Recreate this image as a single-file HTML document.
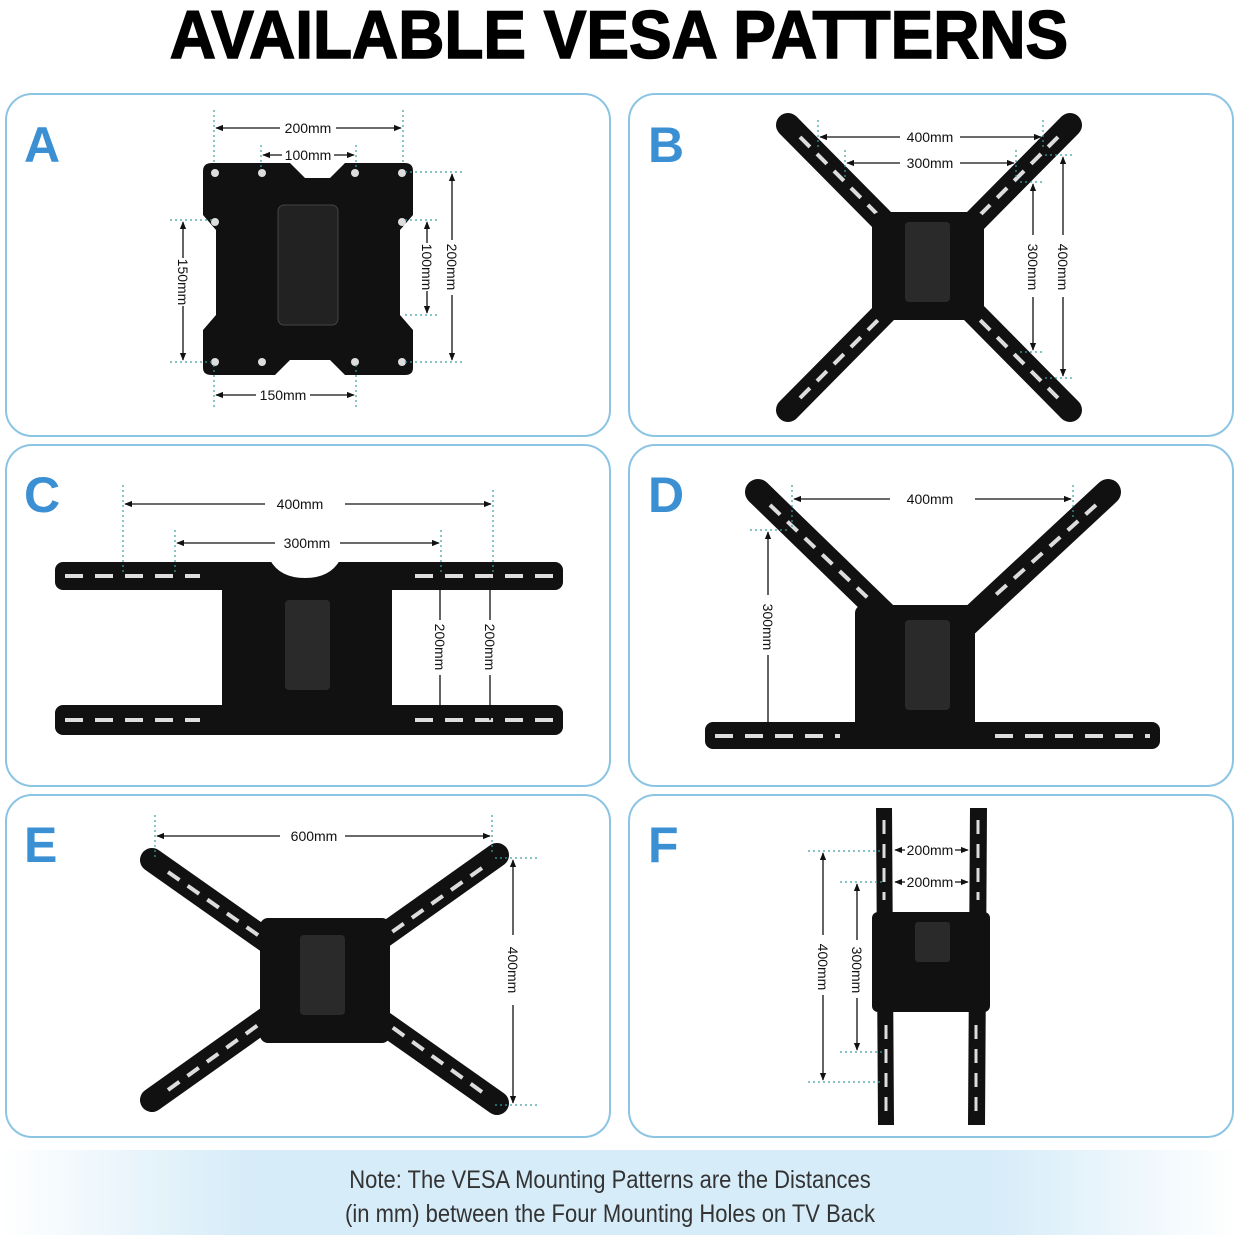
<!DOCTYPE html>
<html><head><meta charset="utf-8"><style>
html,body{margin:0;padding:0;background:#fff;}
body{width:1238px;height:1235px;position:relative;overflow:hidden;font-family:"Liberation Sans",sans-serif;}
svg{position:absolute;left:0;top:0;}
</style></head><body>
<svg width="1238" height="1235" viewBox="0 0 1238 1235" xmlns="http://www.w3.org/2000/svg">
<defs>
<linearGradient id="band" x1="0" x2="1" y1="0" y2="0">
<stop offset="0" stop-color="#ffffff"/><stop offset="0.2" stop-color="#d6ecf8"/><stop offset="0.8" stop-color="#d6ecf8"/><stop offset="1" stop-color="#ffffff"/>
</linearGradient>
<marker id="ar" viewBox="0 0 10 10" refX="9" refY="5" markerWidth="6" markerHeight="6" orient="auto-start-reverse"><path d="M0,1 L10,5 L0,9z" fill="#111"/></marker>
</defs>
<text x="619" y="58" text-anchor="middle" font-family="Liberation Sans" font-weight="bold" font-size="68" stroke="#000" stroke-width="1.5" transform="translate(619,0) scale(0.94,1) translate(-619,0)" fill="#000">AVAILABLE VESA PATTERNS</text>

<g fill="none" stroke="#8cc4e4" stroke-width="2">
<rect x="6" y="94" width="604" height="342" rx="26"/>
<rect x="629" y="94" width="604" height="342" rx="26"/>
<rect x="6" y="445" width="604" height="341" rx="26"/>
<rect x="629" y="445" width="604" height="341" rx="26"/>
<rect x="6" y="795" width="604" height="342" rx="26"/>
<rect x="629" y="795" width="604" height="342" rx="26"/>
</g>
<g font-family="Liberation Sans" font-weight="bold" font-size="50" fill="#3b8fd3">
<text x="24" y="162">A</text><text x="648" y="162">B</text>
<text x="24" y="512">C</text><text x="648" y="512">D</text>
<text x="24" y="862">E</text><text x="648" y="862">F</text>
</g>

<!-- A -->
<path d="M212,163 H290 L305,178 H330 L345,163 H405 Q413,163 413,171 V215 L400,230 V315 L413,330 V368 Q413,375 405,375 H345 L330,360 H290 L275,375 H212 Q203,375 203,368 V330 L216,315 V230 L203,215 V171 Q203,163 212,163Z" fill="#111"/>
<rect x="278" y="205" width="60" height="120" rx="6" fill="#222" stroke="#444"/>
<g fill="#ddd"><circle cx="215" cy="173" r="4"/><circle cx="262" cy="173" r="4"/><circle cx="355" cy="173" r="4"/><circle cx="402" cy="173" r="4"/><circle cx="215" cy="222" r="4"/><circle cx="402" cy="222" r="4"/><circle cx="215" cy="362" r="4"/><circle cx="355" cy="362" r="4"/><circle cx="402" cy="362" r="4"/><circle cx="262" cy="362" r="4"/></g>
<g stroke="#3aa0a0" stroke-dasharray="2,3" stroke-width="1.2">
<line x1="214" y1="110" x2="214" y2="165"/><line x1="403" y1="110" x2="403" y2="165"/><line x1="261" y1="145" x2="261" y2="170"/><line x1="356" y1="145" x2="356" y2="170"/>
<line x1="170" y1="220" x2="215" y2="220"/><line x1="170" y1="362" x2="215" y2="362"/><line x1="405" y1="172" x2="465" y2="172"/><line x1="405" y1="362" x2="465" y2="362"/><line x1="405" y1="220" x2="440" y2="220"/><line x1="405" y1="315" x2="440" y2="315"/>
<line x1="214" y1="365" x2="214" y2="410"/><line x1="356" y1="365" x2="356" y2="410"/>
</g>
<g stroke="#111" stroke-width="1.3" marker-start="url(#ar)" marker-end="url(#ar)">
<line x1="216" y1="128" x2="401" y2="128"/>
<line x1="263" y1="155" x2="354" y2="155"/>
<line x1="183" y1="222" x2="183" y2="360"/>
<line x1="452" y1="174" x2="452" y2="360"/>
<line x1="427" y1="222" x2="427" y2="313"/>
<line x1="216" y1="395" x2="354" y2="395"/>
</g>
<g fill="#fff">
<rect x="280" y="120" width="56" height="16"/><rect x="282" y="147" width="52" height="16"/>
<rect x="256" y="387" width="54" height="16"/>
<rect x="175" y="258" width="16" height="48"/><rect x="444" y="240" width="16" height="55"/><rect x="419" y="243" width="16" height="48"/>
</g>
<g font-size="14" fill="#111" font-family="Liberation Sans">
<text x="308" y="133" text-anchor="middle">200mm</text><text x="308" y="160" text-anchor="middle">100mm</text>
<text x="283" y="400" text-anchor="middle">150mm</text>
<text transform="translate(178,282) rotate(90)" text-anchor="middle">150mm</text>
<text transform="translate(447,267) rotate(90)" text-anchor="middle">200mm</text>
<text transform="translate(422,267) rotate(90)" text-anchor="middle">100mm</text>
</g>

<!-- B -->
<g stroke="#111" stroke-width="24" stroke-linecap="round">
<line x1="788" y1="125" x2="1070" y2="410"/><line x1="1070" y1="125" x2="788" y2="410"/>
</g>
<g stroke="#ddd" stroke-width="4" stroke-dasharray="14,10">
<line x1="800" y1="137" x2="880" y2="217"/><line x1="1058" y1="137" x2="978" y2="217"/><line x1="800" y1="398" x2="880" y2="318"/><line x1="1058" y1="398" x2="978" y2="318"/>
</g>
<rect x="872" y="212" width="112" height="108" rx="8" fill="#111"/>
<rect x="905" y="222" width="45" height="80" rx="4" fill="#2a2a2a"/>
<g stroke="#3aa0a0" stroke-dasharray="2,3" stroke-width="1.2">
<line x1="818" y1="120" x2="818" y2="150"/><line x1="1043" y1="120" x2="1043" y2="150"/><line x1="845" y1="150" x2="845" y2="180"/><line x1="1016" y1="150" x2="1016" y2="180"/>
<line x1="1045" y1="155" x2="1075" y2="155"/><line x1="1020" y1="182" x2="1045" y2="182"/><line x1="1020" y1="352" x2="1045" y2="352"/><line x1="1045" y1="378" x2="1075" y2="378"/>
</g>
<g stroke="#111" stroke-width="1.3" marker-start="url(#ar)" marker-end="url(#ar)">
<line x1="820" y1="137" x2="1041" y2="137"/>
<line x1="847" y1="163" x2="1014" y2="163"/>
<line x1="1063" y1="157" x2="1063" y2="376"/>
<line x1="1033" y1="184" x2="1033" y2="350"/>
</g>
<g fill="#fff"><rect x="900" y="129" width="60" height="16"/><rect x="900" y="155" width="60" height="16"/><rect x="1055" y="235" width="16" height="62"/><rect x="1025" y="235" width="16" height="62"/></g>
<g font-size="14" fill="#111">
<text x="930" y="142" text-anchor="middle">400mm</text><text x="930" y="168" text-anchor="middle">300mm</text>
<text transform="translate(1058,267) rotate(90)" text-anchor="middle">400mm</text>
<text transform="translate(1028,267) rotate(90)" text-anchor="middle">300mm</text>
</g>

<!-- C -->
<rect x="222" y="578" width="170" height="145" rx="8" fill="#111"/>
<rect x="55" y="562" width="508" height="28" rx="8" fill="#111"/>
<rect x="55" y="705" width="508" height="30" rx="8" fill="#111"/>
<path d="M270,560 Q280,578 305,578 Q330,578 340,560Z" fill="#fff"/>
<g stroke="#ddd" stroke-width="4" stroke-dasharray="18,12">
<line x1="65" y1="576" x2="200" y2="576"/><line x1="415" y1="576" x2="553" y2="576"/><line x1="65" y1="720" x2="200" y2="720"/><line x1="415" y1="720" x2="553" y2="720"/>
</g>
<rect x="285" y="600" width="45" height="90" rx="4" fill="#2a2a2a"/>
<g stroke="#3aa0a0" stroke-dasharray="2,3" stroke-width="1.2">
<line x1="123" y1="485" x2="123" y2="575"/><line x1="493" y1="490" x2="493" y2="575"/><line x1="175" y1="530" x2="175" y2="575"/><line x1="441" y1="530" x2="441" y2="575"/>
</g>
<g stroke="#111" stroke-width="1.3" marker-start="url(#ar)" marker-end="url(#ar)">
<line x1="125" y1="504" x2="491" y2="504"/>
<line x1="177" y1="543" x2="439" y2="543"/>
<line x1="440" y1="578" x2="440" y2="720"/>
<line x1="490" y1="578" x2="490" y2="720"/>
</g>
<g fill="#fff"><rect x="265" y="496" width="80" height="16"/><rect x="275" y="535" width="65" height="16"/><rect x="432" y="620" width="16" height="55"/><rect x="482" y="620" width="16" height="55"/></g>
<g font-size="14" fill="#111">
<text x="300" y="509" text-anchor="middle">400mm</text><text x="307" y="548" text-anchor="middle">300mm</text>
<text transform="translate(435,647) rotate(90)" text-anchor="middle">200mm</text>
<text transform="translate(485,647) rotate(90)" text-anchor="middle">200mm</text>
</g>

<!-- D -->
<g stroke="#111" stroke-width="26" stroke-linecap="round">
<line x1="758" y1="492" x2="895" y2="625"/><line x1="1108" y1="492" x2="965" y2="625"/>
</g>
<g stroke="#ddd" stroke-width="4" stroke-dasharray="14,10">
<line x1="770" y1="505" x2="870" y2="600"/><line x1="1096" y1="505" x2="990" y2="600"/>
</g>
<rect x="855" y="605" width="120" height="130" rx="8" fill="#111"/>
<rect x="705" y="722" width="455" height="27" rx="8" fill="#111"/>
<g stroke="#ddd" stroke-width="4" stroke-dasharray="18,12"><line x1="715" y1="736" x2="840" y2="736"/><line x1="995" y1="736" x2="1150" y2="736"/></g>
<rect x="905" y="620" width="45" height="90" rx="4" fill="#2a2a2a"/>
<g stroke="#3aa0a0" stroke-dasharray="2,3" stroke-width="1.2">
<line x1="792" y1="485" x2="792" y2="530"/><line x1="1073" y1="485" x2="1073" y2="520"/><line x1="750" y1="530" x2="790" y2="530"/>
</g>
<g stroke="#111" stroke-width="1.3" marker-start="url(#ar)" marker-end="url(#ar)">
<line x1="794" y1="499" x2="1071" y2="499"/>
<line x1="768" y1="532" x2="768" y2="734"/>
</g>
<g fill="#fff"><rect x="890" y="491" width="85" height="16"/><rect x="760" y="595" width="16" height="60"/></g>
<g font-size="14" fill="#111">
<text x="930" y="504" text-anchor="middle">400mm</text>
<text transform="translate(763,627) rotate(90)" text-anchor="middle">300mm</text>
</g>

<!-- E -->
<g stroke="#111" stroke-width="24" stroke-linecap="round">
<line x1="152" y1="860" x2="497" y2="1103"/><line x1="497" y1="855" x2="152" y2="1100"/>
</g>
<g stroke="#ddd" stroke-width="4" stroke-dasharray="14,10">
<line x1="168" y1="872" x2="265" y2="940"/><line x1="482" y1="868" x2="385" y2="937"/><line x1="168" y1="1090" x2="265" y2="1020"/><line x1="482" y1="1092" x2="385" y2="1022"/>
</g>
<rect x="260" y="918" width="130" height="125" rx="8" fill="#111"/>
<rect x="300" y="935" width="45" height="80" rx="4" fill="#2a2a2a"/>
<g stroke="#3aa0a0" stroke-dasharray="2,3" stroke-width="1.2">
<line x1="155" y1="815" x2="155" y2="858"/><line x1="492" y1="815" x2="492" y2="852"/><line x1="495" y1="858" x2="540" y2="858"/><line x1="495" y1="1105" x2="540" y2="1105"/>
</g>
<g stroke="#111" stroke-width="1.3" marker-start="url(#ar)" marker-end="url(#ar)">
<line x1="157" y1="836" x2="490" y2="836"/>
<line x1="513" y1="860" x2="513" y2="1103"/>
</g>
<g fill="#fff"><rect x="280" y="828" width="65" height="16"/><rect x="505" y="935" width="16" height="70"/></g>
<g font-size="14" fill="#111">
<text x="314" y="841" text-anchor="middle">600mm</text>
<text transform="translate(508,970) rotate(90)" text-anchor="middle">400mm</text>
</g>

<!-- F -->
<path d="M876,808 H892 L894,1125 H878Z" fill="#111"/>
<path d="M970,808 H987 L985,1125 H968Z" fill="#111"/>
<rect x="872" y="912" width="118" height="100" rx="6" fill="#111"/>
<g stroke="#ddd" stroke-width="3" stroke-dasharray="14,10"><line x1="884" y1="820" x2="884" y2="900"/><line x1="978" y1="820" x2="978" y2="900"/><line x1="886" y1="1025" x2="886" y2="1115"/><line x1="976" y1="1025" x2="976" y2="1115"/></g>
<rect x="915" y="922" width="35" height="40" rx="3" fill="#2a2a2a"/>
<g stroke="#3aa0a0" stroke-dasharray="2,3" stroke-width="1.2">
<line x1="808" y1="851" x2="880" y2="851"/><line x1="840" y1="882" x2="885" y2="882"/><line x1="840" y1="1052" x2="885" y2="1052"/><line x1="808" y1="1082" x2="880" y2="1082"/>
</g>
<g stroke="#111" stroke-width="1.3" marker-start="url(#ar)" marker-end="url(#ar)">
<line x1="823" y1="853" x2="823" y2="1080"/>
<line x1="857" y1="884" x2="857" y2="1050"/>
<line x1="895" y1="850" x2="968" y2="850"/>
<line x1="895" y1="882" x2="968" y2="882"/>
</g>
<g fill="#fff"><rect x="815" y="935" width="16" height="60"/><rect x="849" y="940" width="16" height="58"/><rect x="905" y="842" width="50" height="16"/><rect x="905" y="874" width="50" height="16"/></g>
<g font-size="14" fill="#111">
<text x="930" y="855" text-anchor="middle">200mm</text><text x="930" y="887" text-anchor="middle">200mm</text>
<text transform="translate(818,967) rotate(90)" text-anchor="middle">400mm</text>
<text transform="translate(852,970) rotate(90)" text-anchor="middle">300mm</text>
</g>

<rect x="0" y="1150" width="1238" height="85" fill="url(#band)"/>
<g font-size="25" fill="#333" text-anchor="middle" transform="translate(610,0) scale(0.88,1) translate(-610,0)">
<text x="610" y="1188">Note: The VESA Mounting Patterns are the Distances</text>
<text x="610" y="1222">(in mm) between the Four Mounting Holes on TV Back</text>
</g>
</svg>
</body></html>
